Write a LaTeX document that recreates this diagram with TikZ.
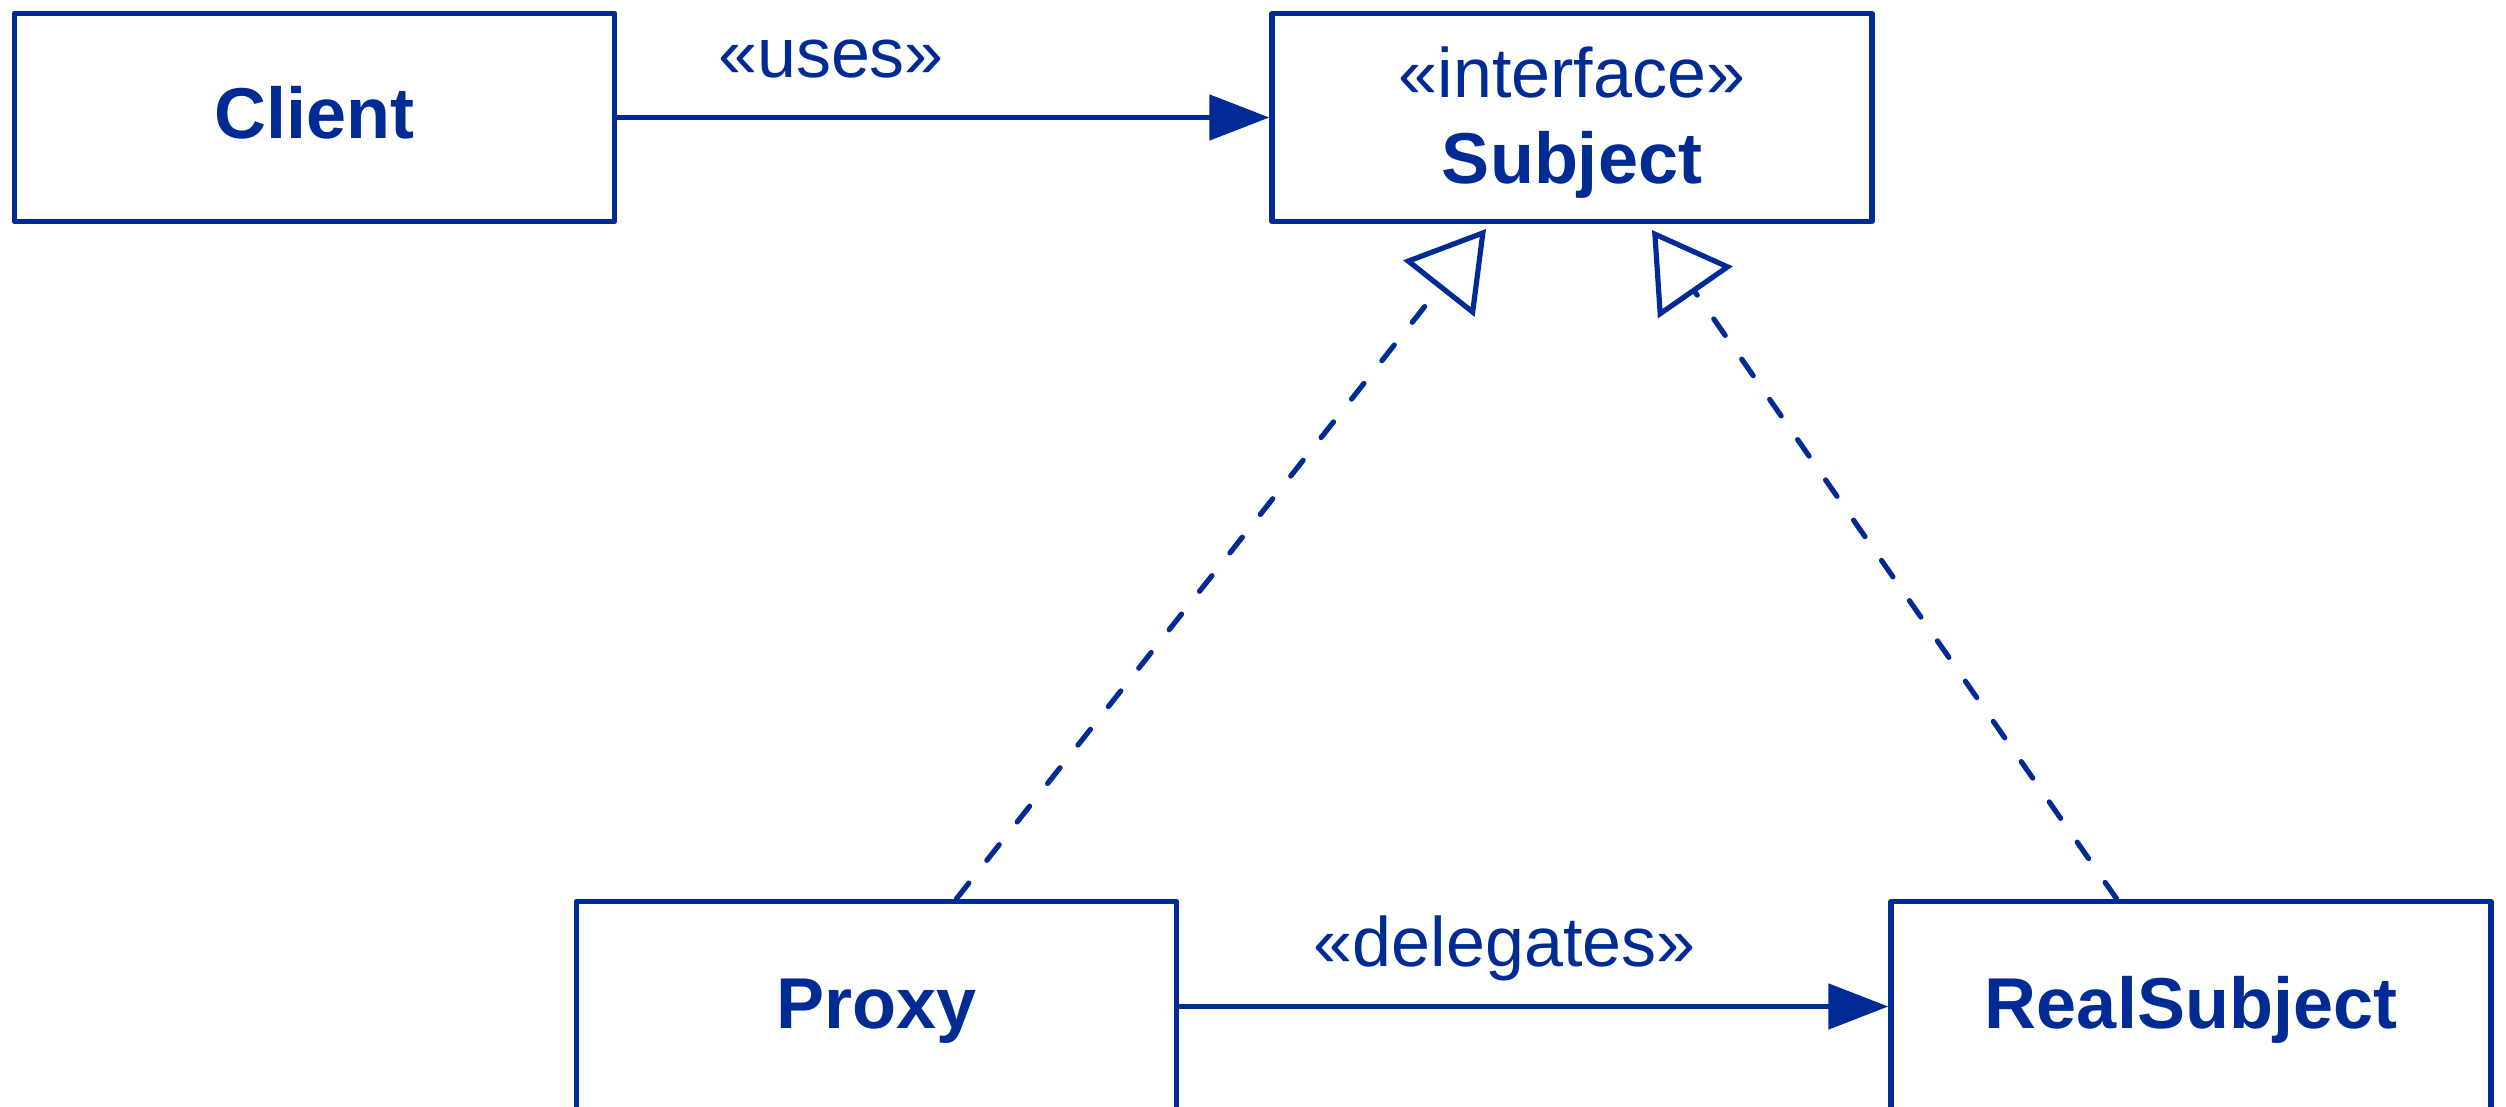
\documentclass[tikz,border=0pt]{standalone}
\usepackage{fontspec}
\setmainfont{Liberation Sans}
\usetikzlibrary{arrows.meta,calc}
\definecolor{umlblue}{RGB}{0,42,148}
\begin{document}
\begin{tikzpicture}[x=0.5pt,y=-0.5pt,
  classbox/.style={draw=umlblue, line width=2.7pt, line join=round,
    minimum width=300pt, minimum height=104pt, inner sep=0pt,
    text=umlblue, font=\fontsize{36}{43}\selectfont\bfseries,
    text height=26pt, text depth=4.5pt},
  lowbox/.style={classbox, minimum height=105pt},
  stereo/.style={text=umlblue, inner sep=0pt, font=\fontsize{35}{42}\selectfont},
  classname/.style={text=umlblue, inner sep=0pt, font=\fontsize{36}{43}\selectfont\bfseries},
  assoc/.style={draw=umlblue, line width=2.6pt,
    -{Triangle[length=30pt, width=22.5pt]}, umlblue},
  realize/.style={draw=umlblue, line width=2.6pt, line cap=round,
    dash pattern=on 10pt off 14.5pt,
    -{Triangle[open, length=38pt, width=45pt, line cap=butt]}}
]
\useasboundingbox (0,0) rectangle (2506,1107);

% classes
\node[classbox] (client) at (314.5,117.5) {Client};
\node[classbox] (subject) at (1572,117.5) {};
\node[stereo, anchor=base] (subjst) at ([yshift=10pt]subject.center) {«interface»};
\node[classname, anchor=base] (subjname) at ([yshift=-33pt]subject.center) {Subject};
\node[lowbox] (proxy) at (876.5,1006.5) {Proxy};
\node[lowbox] (realsubject) at (2191,1006.5) {RealSubject};

% ends of the realization arrows, just below the interface
\coordinate (proxytip) at (1486,229);
\coordinate (realtip) at (1652,230);

% associations
\draw[assoc] (client) -- node[stereo, pos=0.328, anchor=base, yshift=20pt] (useslbl) {«uses»} (subject);
\draw[assoc] (proxy) -- node[stereo, pos=0.459, anchor=base, yshift=20pt] (delegatelbl) {«delegates»} (realsubject);

% realizations
\draw[realize] ($(proxy.north west)!0.632!(proxy.north east)$) -- (proxytip);
\draw[realize] ($(realsubject.north west)!0.377!(realsubject.north east)$) -- (realtip);
\end{tikzpicture}
\end{document}
